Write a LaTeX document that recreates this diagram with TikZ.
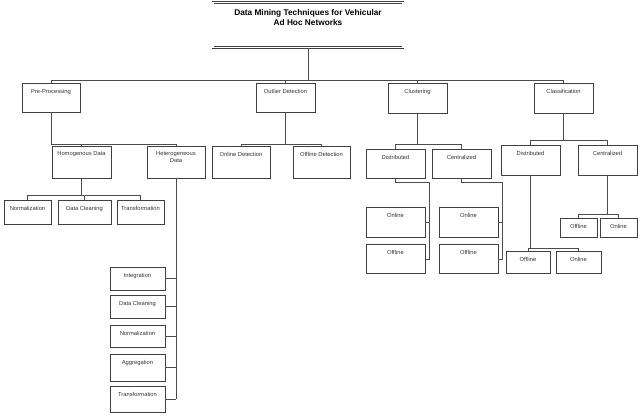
\documentclass[tikz,border=0pt]{standalone}
\usepackage{fontspec}
\setmainfont{Liberation Sans}
\usetikzlibrary{positioning,calc}
\tikzset{
  box/.style={draw=black!75,line width=0.7pt,inner sep=0pt},
  link/.style={draw=black!70,line width=0.6pt},
  txt/.style={font=\fontsize{5.8}{7}\selectfont,align=center,inner sep=0pt,text=black!80}
}
% box from (x1,y1) to (x2,y2), text near the top
\newcommand\bx[6]{\node (#1) [box,minimum width={(#4-#2)*1pt},minimum height={(#5-#3)*1pt},
  label={[txt,anchor=north,yshift=-6pt]north:#6}] at ({(#2+#4)/2},{(#3+#5)/2}) {};}
\begin{document}
\begin{tikzpicture}[x=1pt,y=-1pt]
  \useasboundingbox (0,0) rectangle (640,417);
  \node (title) [draw=black!75,double,double distance=1.2pt,line width=0.6pt,minimum width=190pt,minimum height=45pt,
    label={[font=\bfseries\fontsize{8.3}{10}\selectfont,align=center,anchor=north,yshift=-4pt]north:Data Mining Techniques for Vehicular\\Ad Hoc Networks}] at (308,25) {};
  % level 1
  \bx{pre}{22}{83}{80}{112}{Pre-Processing}
  \bx{outl}{256}{83}{315}{112}{Outlier Detection}
  \bx{clus}{388}{83}{447}{113}{Clustering}
  \bx{clas}{534}{83}{593}{113}{Classification}
  % pre-processing
  \bx{homo}{52}{146}{111}{178}{Homogenous Data}
  \bx{hete}{147}{146}{205}{178}{Heterogeneous\\Data}
  \bx{norm}{4}{200}{51}{224}{Normalization}
  \bx{clean}{58}{200}{111}{224}{Data Cleaning}
  \bx{trans}{117}{200}{164}{224}{Transformation}
  \bx{integ}{110}{267}{165}{290}{Integration}
  \bx{hclean}{110}{295}{165}{318}{Data Cleaning}
  \bx{hnorm}{110}{325}{165}{347}{Normalization}
  \bx{aggr}{110}{354}{165}{381}{Aggregation}
  \bx{htrans}{110}{386}{165}{412}{Transformation}
  % outlier detection
  \bx{ondet}{212}{146}{270}{178}{Online Detection}
  \bx{offdet}{293}{146}{350}{178}{Offline Detection}
  % clustering
  \bx{cdist}{366}{149}{425}{178}{Distributed}
  \bx{ccent}{432}{149}{491}{178}{Centralized}
  \bx{cdon}{366}{207}{425}{237}{Online}
  \bx{cdoff}{366}{244}{425}{273}{Offline}
  \bx{ccon}{439}{207}{498}{237}{Online}
  \bx{ccoff}{439}{244}{498}{273}{Offline}
  % classification
  \bx{kdist}{501}{145}{560}{175}{Distributed}
  \bx{kcent}{578}{145}{637}{175}{Centralized}
  \bx{kdoff}{506}{251}{550}{273}{Offline}
  \bx{kdon}{556}{251}{601}{273}{Online}
  \bx{kcoff}{560}{218}{597}{237}{Offline}
  \bx{kcon}{600}{218}{637}{237}{Online}
  % connectors
  \coordinate (bus0) at (308,80);
  \draw[link] (title) -- (bus0) -| (pre.north);
  \draw[link] (bus0) -| (outl.north);
  \draw[link] (bus0) -| (clus.north);
  \draw[link] (bus0) -| (clas.north);
  \draw[link] (pre.south) |- ($(homo.north)+(0,-1)$) -- (homo.north);
  \draw[link] ($(homo.north)+(0,-1)$) -| (hete.north);
  \draw[link] (homo.south) |- ($(clean.north)+(0,-4)$) -| (norm.north);
  \draw[link] ($(clean.north)+(0,-4)$) -| (clean.north);
  \draw[link] ($(clean.north)+(0,-4)$) -| (trans.north);
  \coordinate (hbot) at (176,399);
  \draw[link] (hete.south) -- (hbot);
  \foreach \n in {integ,hclean,hnorm,aggr,htrans}
    \draw[link] (\n.east) -- (\n.east -| hbot);
  \draw[link] (outl.south) |- ($(ondet.north)+(0,-1)$) -- (ondet.north);
  \draw[link] ($(ondet.north)+(0,-1)$) -| (offdet.north);
  \draw[link] (clus.south) |- ($(cdist.north)+(0,-4)$) -- (cdist.north);
  \draw[link] ($(cdist.north)+(0,-4)$) -| (ccent.north);
  \coordinate (cdbus) at (429,259);
  \draw[link] (cdist.south) -- ++(0,4) -| (cdbus) -- (cdoff.east |- cdbus);
  \draw[link] (cdon.east) -- (cdon.east -| cdbus);
  \coordinate (ccbus) at (502,259);
  \draw[link] (ccent.south) -- ++(0,4) -| (ccbus) -- (ccoff.east |- ccbus);
  \draw[link] (ccon.east) -- (ccon.east -| ccbus);
  \draw[link] (clas.south) |- ($(kdist.north)+(0,-4)$) -- (kdist.north);
  \draw[link] ($(kdist.north)+(0,-4)$) -| (kcent.north);
  \draw[link] (kdist.south) -- ++(0,73) -| (kdoff.north);
  \draw[link] (kdist.south) ++(0,73) -| (kdon.north);
  \draw[link] (kcent.south) -- ++(0,39) -| (kcoff.north);
  \draw[link] (kcent.south) ++(0,39) -| (kcon.north);
\end{tikzpicture}
\end{document}
